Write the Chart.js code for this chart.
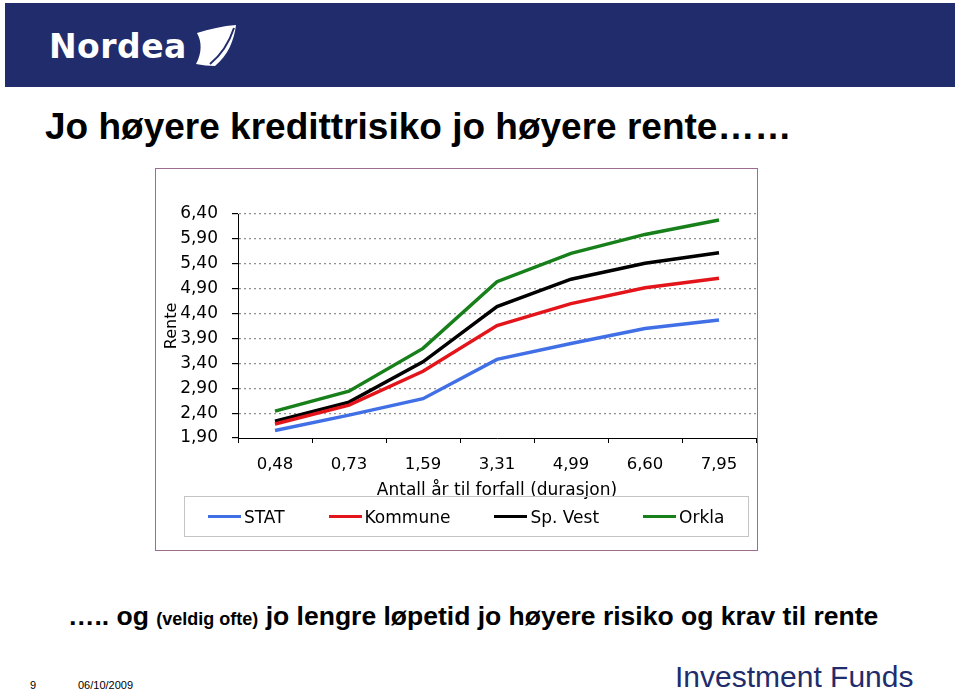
<!DOCTYPE html>
<html>
<head>
<meta charset="utf-8">
<script src="https://cdn.jsdelivr.net/npm/chart.js@4/dist/chart.umd.min.js"></script>
<style>
    body { margin: 0; width: 960px; height: 691px; background: #fff; position: relative; overflow: hidden; font-family: "Liberation Sans", Arial, sans-serif; }
    .header { position: absolute; left: 5px; top: 3px; width: 950px; height: 84px; background: #212c6c; }
    .logo { position: absolute; left: 44px; top: 24px; color: #fff; font-family: "DejaVu Sans", sans-serif; font-weight: bold; font-size: 33px; letter-spacing: 0.5px; }
    .sail { position: absolute; left: 188px; top: 20px; }
    .title { position: absolute; left: 45px; top: 106px; font-size: 37px; font-weight: bold; color: #000; white-space: nowrap; }
    .chartBox { position: absolute; left: 155px; top: 168px; width: 601px; height: 381px; border: 1.5px solid #9c6d90; }
    #chart { position: absolute; left: 156px; top: 169px; }
    .legend { position: absolute; left: 184px; top: 496px; width: 565px; height: 41px; border: 1px solid #c4c4c4; display: flex; align-items: center; padding-left: 23px; box-sizing: border-box; font-family: "DejaVu Sans", sans-serif; font-size: 17px; color: #000; white-space: nowrap; }
    .legend .item { display: flex; align-items: center; margin-right: 44px; flex-shrink: 0; }
    .legend .line { width: 33px; height: 3px; margin-right: 3px; }
    .bottomText { position: absolute; left: 68px; top: 601px; font-size: 26.5px; font-weight: bold; white-space: nowrap; }
    .bottomText small { font-size: 18px; }
    .pageNo { position: absolute; left: 30px; top: 679px; font-size: 11px; }
    .date { position: absolute; left: 78px; top: 679px; font-size: 11px; }
    .funds { position: absolute; left: 675px; top: 660px; font-size: 30px; color: #212c6c; white-space: nowrap; }
</style>
</head>
<body>
<div class="header">
    <div class="logo">Nordea</div>
    <svg class="sail" width="48" height="48" viewBox="0 0 48 48">
        <path d="M4,10 C16,6 30,3 43,2 C41,18 35,32 22,43 C16,43 9,42 3,41 C9,30 9,19 4,10 Z" fill="#fff"/>
        <path d="M41,5 C36,20 28,32 17,41" stroke="#212c6c" stroke-width="2" fill="none"/>
    </svg>
</div>
<div class="title">Jo høyere kredittrisiko jo høyere rente……</div>
<div class="chartBox"></div>
<canvas id="chart" width="601" height="340"></canvas>
<div class="legend" id="legend"></div>
<div class="bottomText">….. og <small>(veldig ofte)</small> jo lengre løpetid jo høyere risiko og krav til rente</div>
<div class="pageNo">9</div>
<div class="date">06/10/2009</div>
<div class="funds">Investment Funds</div>

<script>
// durasjon (år) på x-aksen
const durations = ['0,48', '0,73', '1,59', '3,31', '4,99', '6,60', '7,95'];
const yTicks = [1.9, 2.4, 2.9, 3.4, 3.9, 4.4, 4.9, 5.4, 5.9, 6.4];

const seriesNames = ['STAT', 'Kommune', 'Sp. Vest', 'Orkla'];
const statValues = [2.05, 2.36, 2.69, 3.48, 3.80, 4.10, 4.27];
const kommuneValues = [2.18, 2.56, 3.24, 4.16, 4.60, 4.92, 5.11];
const spVestValues = [2.24, 2.62, 3.43, 4.54, 5.09, 5.41, 5.62];
const orklaValues = [2.44, 2.84, 3.70, 5.04, 5.61, 5.99, 6.28];

const seriesColors = ['#4170e6', '#e3151a', '#000000', '#17801a'];
const allValues = [statValues, kommuneValues, spVestValues, orklaValues];

const fontFamily = '"DejaVu Sans", Verdana, sans-serif';
const fmt = v => Number(v).toFixed(2).replace('.', ',');

const chart = new Chart(document.getElementById('chart').getContext('2d'), {
    type: 'line',
    data: {
        labels: durations,
        datasets: seriesNames.map((name, i) => ({
            label: name,
            data: allValues[i],
            borderColor: seriesColors[i],
            backgroundColor: seriesColors[i],
            borderWidth: 3.5,
            pointRadius: 0,
            tension: 0,
            fill: false
        }))
    },
    options: {
        responsive: false,
        animation: false,
        layout: { padding: { top: 45, right: 1, bottom: 11, left: 0 } },
        plugins: {
            legend: { display: false },
            tooltip: { enabled: false }
        },
        scales: {
            x: {
                type: 'category',
                offset: true,
                grid: {
                    display: true,
                    offset: true,
                    drawOnChartArea: false,
                    drawTicks: true,
                    tickLength: 5,
                    tickColor: '#000'
                },
                border: { display: true, color: '#000', width: 1 },
                ticks: { color: '#000', padding: 12, font: { family: fontFamily, size: 16.5 } },
                title: {
                    display: true,
                    text: 'Antall år til forfall (durasjon)',
                    color: '#000',
                    padding: { top: 0, bottom: -3 },
                    font: { family: fontFamily, size: 17 }
                },
                afterFit: s => { s.height = 60; }
            },
            y: {
                min: 1.9,
                max: 6.4,
                afterBuildTicks: s => { s.ticks = yTicks.map(v => ({ value: v })); },
                grid: {
                    color: c => c.index === 0 ? 'rgba(0,0,0,0)' : '#909090',
                    lineWidth: 1.2,
                    drawTicks: true,
                    tickLength: 6,
                    tickColor: '#000',
                    tickBorderDash: []
                },
                border: { display: true, color: '#000', width: 1, dash: [2, 3] },
                ticks: {
                    color: '#000',
                    padding: 14,
                    font: { family: fontFamily, size: 17 },
                    callback: v => fmt(v)
                },
                title: {
                    display: true,
                    text: 'Rente',
                    color: '#000',
                    padding: { top: 6, bottom: 0 },
                    font: { family: fontFamily, size: 16 }
                },
                afterFit: s => { s.width = 82; }
            }
        }
    }
});

// legende bygget fra datasettene
const legend = document.getElementById('legend');
chart.data.datasets.forEach(ds => {
    const item = document.createElement('div');
    item.className = 'item';
    item.innerHTML = `<span class="line" style="background:${ds.borderColor}"></span><span>${ds.label}</span>`;
    legend.appendChild(item);
});
</script>
</body>
</html>
